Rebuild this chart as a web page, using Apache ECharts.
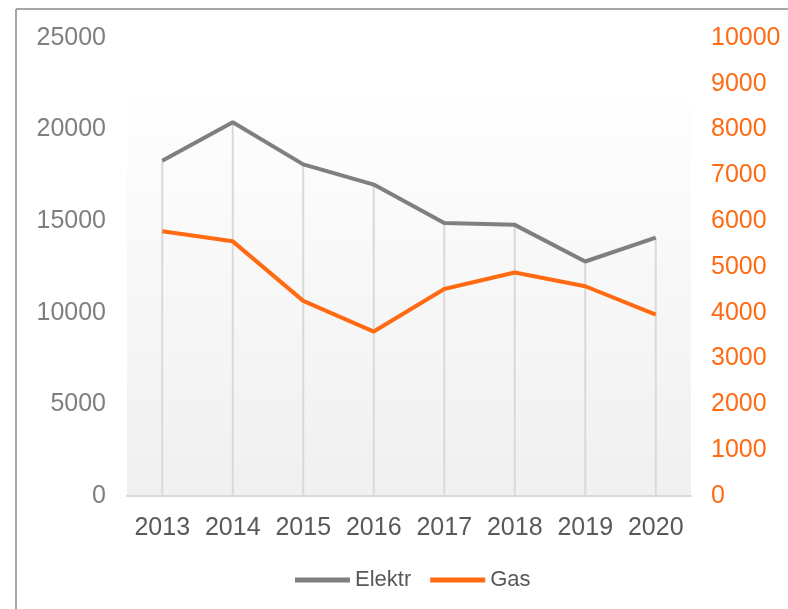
<!DOCTYPE html>
<html>
<head>
<meta charset="utf-8">
<script src="https://cdn.jsdelivr.net/npm/echarts@6/dist/echarts.min.js"></script>
<style>
  html, body { margin: 0; padding: 0; background: #fff; }
</style>
</head>
<body>
<div id="main" style="width: 788px;height:609px;"></div>
<script>
    // 数据
    var years = ['2013', '2014', '2015', '2016', '2017', '2018', '2019', '2020'];
    var elektr = [18300, 20400, 18100, 17000, 14900, 14800, 12800, 14100];
    var gas = [5780, 5560, 4260, 3590, 4520, 4880, 4580, 3960];
    var leftTicks = [0, 25000, 5000];
    var rightTicks = [0, 10000, 1000];

    var gridLeft = 127, gridRight = 97, gridTop = 38, gridBottom = 113;
    var font = 'Liberation Sans';

    var myChart = echarts.init(document.getElementById('main'));
    var option = {
        animation: false,
        backgroundColor: '#fff',
        grid: { left: gridLeft, right: gridRight, top: gridTop, bottom: gridBottom, outerBoundsMode: 'none', containLabel: false },
        graphic: [
            { type: 'line', z: 100, shape: { x1: 16, y1: 9, x2: 16, y2: 609 }, style: { stroke: '#888', lineWidth: 1.5 } },
            { type: 'line', z: 100, shape: { x1: 16, y1: 9, x2: 788, y2: 9 }, style: { stroke: '#888', lineWidth: 1.5 } },
            {
                type: 'rect', z: -10, silent: true,
                shape: { x: gridLeft, y: 98, width: 788 - gridLeft - gridRight, height: 609 - gridBottom - 98 },
                style: {
                    fill: new echarts.graphic.LinearGradient(0, 0, 0, 1, [
                        { offset: 0, color: '#fefefe' },
                        { offset: 1, color: '#f0f0f0' }
                    ])
                }
            }
        ],
        legend: {
            data: ['Elektr', 'Gas'],
            top: 564,
            left: 290,
            icon: 'rect',
            itemWidth: 55,
            itemHeight: 5,
            itemGap: 19,
            textStyle: { fontFamily: font, fontSize: 22, color: '#595959' }
        },
        xAxis: {
            type: 'category',
            data: years,
            axisTick: { show: false },
            axisLine: { lineStyle: { color: '#d9d9d9', width: 2 } },
            axisLabel: { interval: 0, fontFamily: font, fontSize: 25, color: '#595959', margin: 20 }
        },
        yAxis: [{
            type: 'value',
            min: leftTicks[0], max: leftTicks[1], interval: leftTicks[2],
            splitLine: { show: false },
            axisLine: { show: false },
            axisTick: { show: false },
            axisLabel: { fontFamily: font, fontSize: 25, color: '#7f7f7f', margin: 21, formatter: function (v) { return String(v); } }
        }, {
            type: 'value',
            min: rightTicks[0], max: rightTicks[1], interval: rightTicks[2],
            splitLine: { show: false },
            axisLine: { show: false },
            axisTick: { show: false },
            axisLabel: { fontFamily: font, fontSize: 25, color: '#ff6a13', margin: 20, formatter: function (v) { return String(v); } }
        }],
        series: [{
            // 垂直线
            name: 'drop',
            type: 'bar',
            yAxisIndex: 0,
            barWidth: 2,
            silent: true,
            itemStyle: { color: '#d9d9d9' },
            data: elektr,
            z: 1
        }, {
            name: 'Elektr',
            type: 'line',
            yAxisIndex: 0,
            showSymbol: false,
            lineStyle: { color: '#7f7f7f', width: 4 },
            itemStyle: { color: '#7f7f7f' },
            data: elektr,
            z: 3
        }, {
            name: 'Gas',
            type: 'line',
            yAxisIndex: 1,
            showSymbol: false,
            lineStyle: { color: '#ff6a13', width: 4 },
            itemStyle: { color: '#ff6a13' },
            data: gas,
            z: 3
        }]
    };
    myChart.setOption(option);
</script>
</body>
</html>
